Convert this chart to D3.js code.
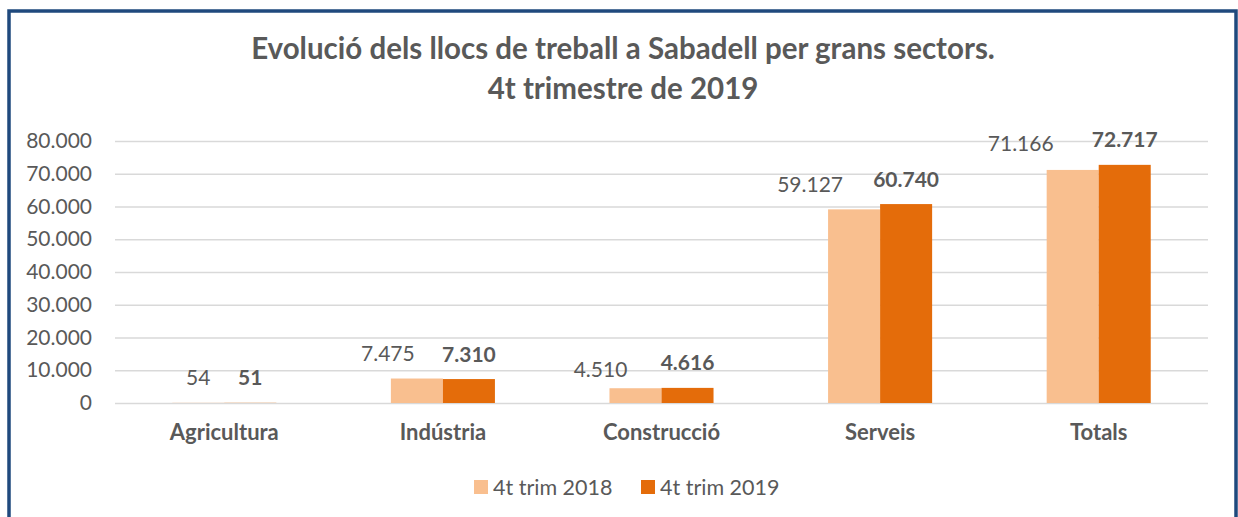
<!DOCTYPE html>
<html>
<head>
<meta charset="utf-8">
<script src="https://cdn.jsdelivr.net/npm/d3@7"></script>
<style>
  body { margin: 0; background: #fff; }
  svg { display: block; }
  text { font-family: Lato, "Open Sans", sans-serif; fill: #595959; }
</style>
</head>
<body>
<svg id="chart" width="1238" height="517"></svg>
<script>
// data
const sectors = ['Agricultura', 'Indústria', 'Construcció', 'Serveis', 'Totals'];
const series = ['4t trim 2018', '4t trim 2019'];
const values2018 = [54, 7475, 4510, 59127, 71166];
const values2019 = [51, 7310, 4616, 60740, 72717];
const yTicks = [0, 10000, 20000, 30000, 40000, 50000, 60000, 70000, 80000];
const titleLines = ['Evolució dels llocs de treball a Sabadell per grans sectors.', '4t trimestre de 2019'];

// labels of the 2018 series were moved by hand in the original
const labelShift2018 = [[0, 0], [-29, 0], [-35, 6], [-44, 0], [-52, -1]];

const colors = { '4t trim 2018': '#f9bf8f', '4t trim 2019': '#e46c0a' };

const width = 1238;
const height = 517;
const margin = { top: 141, right: 30, bottom: 114, left: 115 };

const caFormat = d3.formatLocale({
  decimal: ',', thousands: '.', grouping: [3], currency: ['', ' €'],
}).format(',d');

const svg = d3.select('#chart');

// frame
svg.append('rect')
  .attr('x', 9)
  .attr('y', 11)
  .attr('width', 1227)
  .attr('height', 540)
  .attr('fill', '#fff')
  .attr('stroke', '#1f497d')
  .attr('stroke-width', 3.5);

// title
svg.selectAll('.title')
  .data(titleLines)
  .join('text')
  .attr('class', 'title')
  .attr('x', 623)
  .attr('y', (d, i) => 47 + i * 40)
  .attr('text-anchor', 'middle')
  .attr('dominant-baseline', 'central')
  .style('font-weight', 700)
  .style('font-size', '29.5px')
  .text((d) => d);

const x0 = d3.scaleBand()
  .domain(sectors)
  .range([margin.left, width - margin.right])
  .paddingInner(0.524)
  .paddingOuter(0.262);

const x1 = d3.scaleBand()
  .domain(series)
  .range([0, x0.bandwidth()]);

const y = d3.scaleLinear()
  .domain([0, 80000])
  .range([height - margin.bottom, margin.top]);

// gridlines + y labels
const yAxis = (g) => {
  g.attr('transform', `translate(${margin.left},0)`)
    .call(d3.axisLeft(y).tickValues(yTicks).tickFormat(caFormat).tickSize(0).tickPadding(23))
    .call((g) => g.select('.domain').remove())
    .call((g) => {
      g.selectAll('.tick')
        .each(function () {
          d3.select(this)
            .append('line')
            .attr('stroke', '#d9d9d9')
            .attr('stroke-width', 1.5)
            .attr('x2', width - margin.left - margin.right);
        });
      g.selectAll('.tick text')
        .attr('fill', '#595959')
        .style('font-size', '21px')
        .style('font-family', 'Lato, sans-serif');
    });
};
svg.append('g').call(yAxis);

// x labels
const xAxis = (g) => {
  g.attr('transform', `translate(0,${height - margin.bottom})`)
    .call(d3.axisBottom(x0).tickSize(0).tickPadding(21))
    .call((g) => g.select('.domain').remove())
    .call((g) => {
      g.selectAll('.tick text')
        .attr('fill', '#595959')
        .style('font-size', '22px')
        .style('font-weight', 700)
        .style('font-family', 'Lato, sans-serif');
    });
};
svg.append('g').call(xAxis);

const rows = sectors.map((s, i) => ({
  sector: s,
  items: [
    { key: series[0], value: values2018[i], shift: labelShift2018[i], bold: false },
    { key: series[1], value: values2019[i], shift: [0, 0], bold: true },
  ],
}));

const groups = svg.append('g')
  .selectAll('g')
  .data(rows)
  .join('g')
  .attr('transform', (d) => `translate(${x0(d.sector)},0)`);

groups.selectAll('rect')
  .data((d) => d.items)
  .join('rect')
  .attr('x', (d) => x1(d.key))
  .attr('y', (d) => y(d.value))
  .attr('width', x1.bandwidth())
  .attr('height', (d) => y(0) - y(d.value))
  .attr('fill', (d) => colors[d.key]);

groups.selectAll('text')
  .data((d) => d.items)
  .join('text')
  .attr('x', (d) => x1(d.key) + x1.bandwidth() / 2 + d.shift[0])
  .attr('y', (d) => y(d.value) - 26 + d.shift[1])
  .attr('text-anchor', 'middle')
  .attr('dominant-baseline', 'central')
  .style('font-size', '21px')
  .style('font-weight', (d) => (d.bold ? 700 : 400))
  .text((d) => caFormat(d.value));

// legend
const legend = svg.append('g')
  .selectAll('g')
  .data(series)
  .join('g')
  .attr('transform', (d, i) => `translate(${474 + i * 167},480)`);

legend.append('rect')
  .attr('width', 14)
  .attr('height', 14)
  .attr('fill', (d) => colors[d]);

legend.append('text')
  .attr('x', 19)
  .attr('y', 7)
  .attr('dominant-baseline', 'central')
  .style('font-size', '21.5px')
  .text((d) => d);
</script>
</body>
</html>
